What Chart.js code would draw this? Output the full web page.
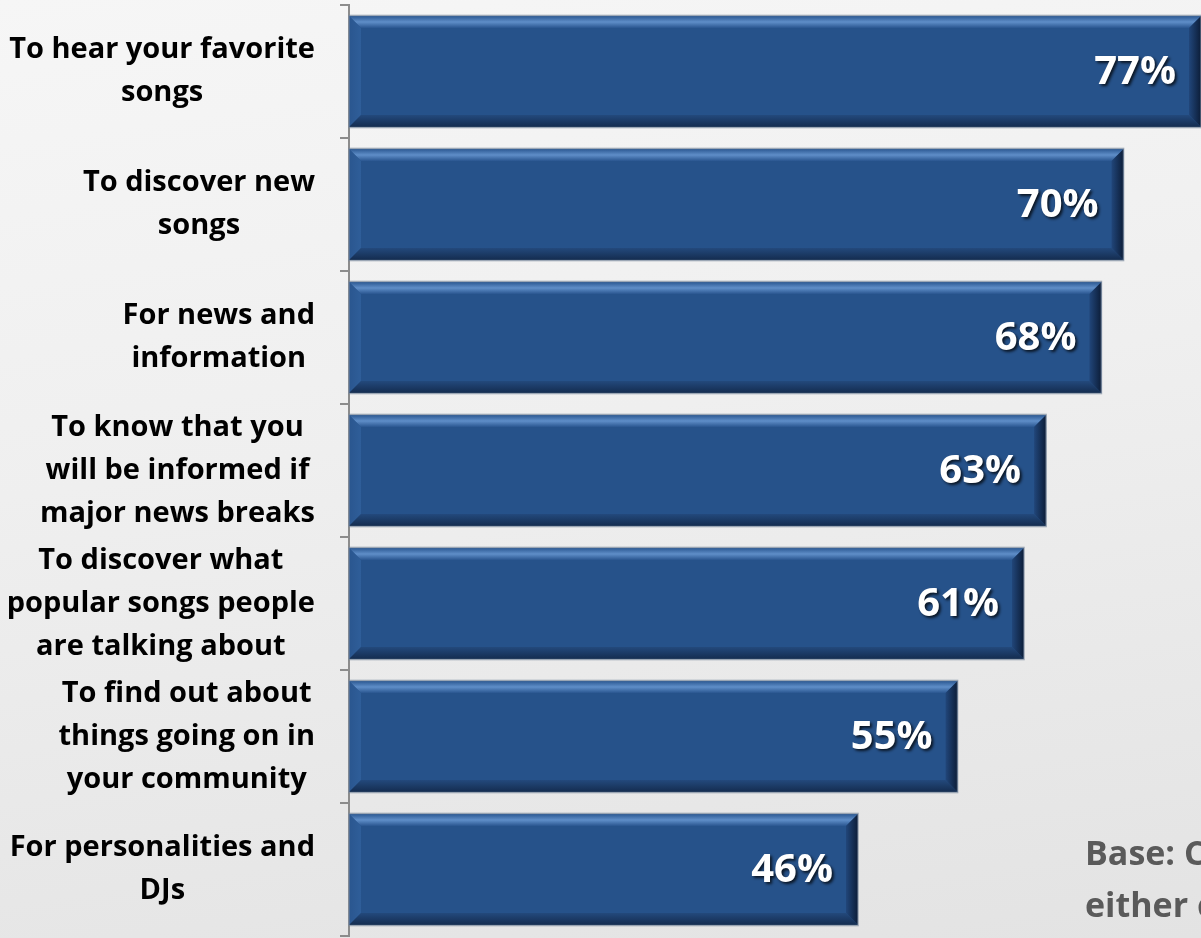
<!DOCTYPE html>
<html><head><meta charset="utf-8">
<script src="https://cdn.jsdelivr.net/npm/chart.js@4.4.0/dist/chart.umd.min.js"></script>
<style>
html,body{margin:0;padding:0;width:1201px;height:938px;overflow:hidden;}
body{background:linear-gradient(172deg,#f6f6f6 0%,#efefef 45%,#e3e3e3 100%);}
#wrap{position:relative;width:1201px;height:938px;}
canvas{display:block;}
</style></head><body>
<div id="wrap"><canvas id="c" width="1201" height="938" style="width:1201px;height:938px"></canvas></div>
<script>
const categories = [
  ["To hear your favorite", "songs"],
  ["To discover new", "songs"],
  ["For news and", "information"],
  ["To know that you", "will be informed if", "major news breaks"],
  ["To discover what", "popular songs people", "are talking about"],
  ["To find out about", "things going on in", "your community"],
  ["For personalities and", "DJs"]
];
const values = [77, 70, 68, 63, 61, 55, 46];
const valueLabels = values.map(v => v + "%");
const axisRange = [0, 77];
const noteLines = ["Base: C", "either c"];

const FONT = "'Open Sans', Lato, sans-serif";

const decorPlugin = {
  id: "decor",
  afterDatasetsDraw(chart) {
    const ctx = chart.ctx;
    const meta = chart.getDatasetMeta(0);
    meta.data.forEach((bar, i) => {
      const L = bar.base, R = bar.x, T = bar.y - bar.height / 2, B = bar.y + bar.height / 2;
      const b = 12;
      ctx.save();
      let g = ctx.createLinearGradient(0, T, 0, T + b);
      g.addColorStop(0, "#2b5892"); g.addColorStop(0.5, "#5f8ec8"); g.addColorStop(1, "#2a5690");
      ctx.fillStyle = g;
      ctx.beginPath(); ctx.moveTo(L, T); ctx.lineTo(R, T); ctx.lineTo(R - b, T + b); ctx.lineTo(L + b, T + b); ctx.closePath(); ctx.fill();
      g = ctx.createLinearGradient(L, 0, L + b, 0);
      g.addColorStop(0, "#2a568f"); g.addColorStop(1, "#2f5e99");
      ctx.fillStyle = g;
      ctx.beginPath(); ctx.moveTo(L, T); ctx.lineTo(L + b, T + b); ctx.lineTo(L + b, B - b); ctx.lineTo(L, B); ctx.closePath(); ctx.fill();
      g = ctx.createLinearGradient(0, B - b, 0, B);
      g.addColorStop(0, "#23497c"); g.addColorStop(1, "#142c4f");
      ctx.fillStyle = g;
      ctx.beginPath(); ctx.moveTo(L, B); ctx.lineTo(L + b, B - b); ctx.lineTo(R - b, B - b); ctx.lineTo(R, B); ctx.closePath(); ctx.fill();
      g = ctx.createLinearGradient(R - b, 0, R, 0);
      g.addColorStop(0, "#21467a"); g.addColorStop(1, "#0c1d38");
      ctx.fillStyle = g;
      ctx.beginPath(); ctx.moveTo(R, T); ctx.lineTo(R, B); ctx.lineTo(R - b, B - b); ctx.lineTo(R - b, T + b); ctx.closePath(); ctx.fill();
      ctx.strokeStyle = "rgba(120,135,155,0.7)";
      ctx.lineWidth = 1.5;
      ctx.strokeRect(L, T - 0.5, R - L, B - T + 1);
      ctx.font = "bold 40px " + FONT;
      ctx.fillStyle = "#ffffff";
      ctx.textAlign = "right";
      ctx.textBaseline = "middle";
      ctx.shadowColor = "rgba(0,0,0,0.75)";
      ctx.shadowOffsetX = 2; ctx.shadowOffsetY = 2; ctx.shadowBlur = 3;
      ctx.fillText(valueLabels[i], R - 25, bar.y + 1);
      ctx.restore();
    });
    const ys = chart.scales.y;
    ctx.save();
    ctx.font = "bold 29px " + FONT;
    ctx.fillStyle = "#000000";
    ctx.textAlign = "center";
    ctx.textBaseline = "middle";
    const lh = 43;
    categories.forEach((lines, i) => {
      const cy = ys.getPixelForValue(i);
      const maxW = Math.max(...lines.map(s => ctx.measureText(s).width));
      const cx = 315 - maxW / 2;
      const y0 = cy - (lines.length - 1) * lh / 2;
      lines.forEach((s, k) => ctx.fillText(s, cx, y0 + k * lh));
    });
    ctx.font = "bold 34px " + FONT;
    ctx.fillStyle = "#5a5a5a";
    ctx.textAlign = "left";
    ctx.textBaseline = "alphabetic";
    ctx.fillText(noteLines[0], 1085, 865);
    ctx.fillText(noteLines[1], 1085, 917);
    ctx.restore();
  }
};

new Chart(document.getElementById("c"), {
  type: "bar",
  data: {
    labels: categories,
    datasets: [{
      data: values,
      backgroundColor: "#26528a",
      borderWidth: 0,
      barPercentage: 0.835,
      categoryPercentage: 1.0
    }]
  },
  options: {
    indexAxis: "y",
    responsive: false,
    maintainAspectRatio: false,
    animation: false,
    devicePixelRatio: 1,
    layout: { padding: { top: 5, bottom: 2, left: 0, right: 0 } },
    plugins: { legend: { display: false }, tooltip: { enabled: false } },
    scales: {
      x: { display: false, min: axisRange[0], max: axisRange[1] },
      y: {
        ticks: { display: false },
        grid: { display: true, drawOnChartArea: false, drawTicks: true, tickLength: 9, color: "#8c8c8c", lineWidth: 2, offset: true },
        border: { display: true, color: "#8c8c8c", width: 2 },
        afterFit(scale) { scale.width = 349; }
      }
    }
  },
  plugins: [decorPlugin]
});
</script>
</body></html>
